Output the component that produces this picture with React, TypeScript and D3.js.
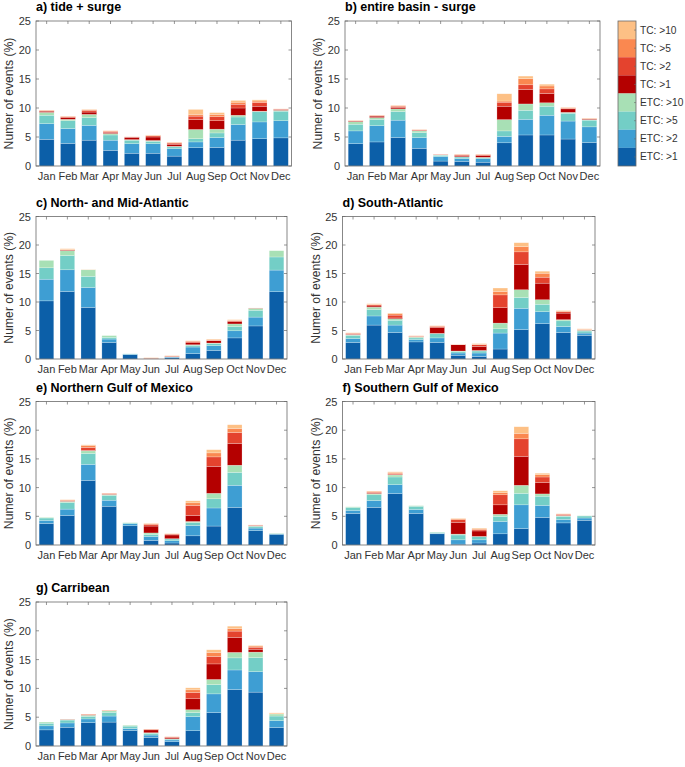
import React from "react";
import * as d3 from "d3";

const months = ["Jan", "Feb", "Mar", "Apr", "May", "Jun", "Jul", "Aug", "Sep", "Oct", "Nov", "Dec"];
const seriesNames = ["ETC: >1", "ETC: >2", "ETC: >5", "ETC: >10", "TC: >1", "TC: >2", "TC: >5", "TC: >10"];
const seriesColors = ["#0c5fa8", "#3e9ed3", "#73cec6", "#a8e0b5", "#b40000", "#e4432e", "#fa8850", "#fdc085"];
const yTicks = [0, 5, 10, 15, 20, 25];

// segment values per month: ETC>1, ETC>2, ETC>5, ETC>10, TC>1, TC>2, TC>5, TC>10
const tideSurge = [
  [4.6, 2.7, 1.45, 0.5, 0.2, 0.1, 0.05, 0.05],
  [3.9, 2.55, 1.35, 0.25, 0.3, 0.15, 0.05, 0.05],
  [4.45, 2.55, 1.35, 0.55, 0.4, 0.3, 0.1, 0.05],
  [2.7, 1.75, 0.9, 0.25, 0.2, 0.15, 0.1, 0.05],
  [2.2, 1.65, 0.6, 0.1, 0.4, 0.05, 0.03, 0.02],
  [2.2, 1.65, 0.4, 0.15, 0.6, 0.2, 0.1, 0.05],
  [1.7, 1.3, 0.3, 0.1, 0.35, 0.2, 0.1, 0.05],
  [3.15, 1.0, 0.55, 1.6, 1.7, 0.6, 0.3, 0.85],
  [3.2, 1.7, 0.8, 0.65, 1.45, 0.7, 0.4, 0.3],
  [4.45, 2.7, 1.3, 0.3, 1.25, 0.65, 0.35, 0.3],
  [4.7, 2.9, 1.75, 0.1, 0.85, 0.65, 0.25, 0.2],
  [4.85, 2.95, 1.65, 0.15, 0.15, 0.05, 0.03, 0.02],
];
const entireBasin = [
  [3.85, 2.2, 1.15, 0.45, 0.1, 0.05, 0.05, 0.03],
  [4.15, 2.8, 1.1, 0.3, 0.25, 0.1, 0.05, 0.03],
  [4.9, 3.0, 1.5, 0.45, 0.25, 0.2, 0.1, 0.05],
  [3.05, 1.85, 0.85, 0.3, 0.1, 0.08, 0.05, 0.02],
  [0.85, 0.8, 0.2, 0.05, 0.05, 0.03, 0.02, 0.0],
  [0.8, 0.5, 0.25, 0.05, 0.2, 0.15, 0.05, 0.03],
  [0.65, 0.6, 0.2, 0.05, 0.3, 0.15, 0.05, 0.03],
  [4.0, 1.1, 0.95, 1.95, 2.3, 0.7, 0.2, 1.25],
  [5.35, 2.7, 1.55, 1.1, 2.5, 0.8, 1.05, 0.45],
  [5.35, 3.4, 1.55, 0.6, 1.6, 0.8, 0.5, 0.3],
  [4.65, 3.1, 1.35, 0.15, 0.6, 0.1, 0.1, 0.05],
  [4.05, 2.7, 1.15, 0.1, 0.1, 0.05, 0.05, 0.05],
];
const northMidAtlantic = [
  [10.2, 3.8, 2.0, 1.3, 0, 0, 0, 0],
  [11.85, 3.8, 2.5, 0.85, 0.1, 0.05, 0.05, 0.15],
  [9.05, 3.5, 1.95, 1.15, 0, 0, 0, 0.05],
  [2.9, 0.6, 0.3, 0.3, 0, 0, 0, 0],
  [0.75, 0.1, 0.05, 0, 0, 0, 0, 0],
  [0.02, 0.02, 0, 0, 0, 0.1, 0.05, 0.05],
  [0.25, 0.1, 0.05, 0, 0, 0.1, 0.05, 0.05],
  [0.95, 1.15, 0.3, 0.1, 0.35, 0.2, 0.1, 0.05],
  [1.5, 0.85, 0.35, 0.1, 0.4, 0.1, 0.1, 0.1],
  [3.7, 1.25, 0.75, 0.45, 0.4, 0.15, 0.1, 0.1],
  [5.8, 1.55, 1.2, 0.35, 0.03, 0.02, 0, 0],
  [11.8, 3.8, 2.3, 1.1, 0, 0, 0, 0],
];
const southAtlantic = [
  [2.9, 0.7, 0.55, 0.1, 0.1, 0.15, 0.05, 0.05],
  [5.95, 1.6, 1.15, 0.4, 0.2, 0.2, 0.1, 0.1],
  [4.65, 1.3, 0.85, 0.25, 0.15, 0.5, 0.25, 0.1],
  [3.0, 0.4, 0.3, 0.15, 0.05, 0.1, 0.05, 0.05],
  [2.9, 0.8, 0.75, 0.05, 1.05, 0.15, 0.1, 0.05],
  [0.65, 0.4, 0.25, 0.1, 1.1, 0.05, 0.03, 0.02],
  [0.45, 0.6, 0.35, 0.1, 0.7, 0.3, 0.1, 0.1],
  [1.75, 2.8, 0.75, 1.0, 2.7, 2.25, 0.6, 0.6],
  [5.15, 3.75, 1.9, 1.35, 4.45, 2.2, 0.9, 0.7],
  [6.2, 2.1, 1.3, 0.8, 2.9, 1.05, 0.7, 0.35],
  [4.65, 1.05, 1.0, 0.2, 1.15, 0.25, 0.1, 0.1],
  [4.15, 0.4, 0.35, 0.15, 0.05, 0.05, 0.05, 0.1],
];
const northernGulf = [
  [3.75, 0.55, 0.4, 0.1, 0, 0, 0, 0],
  [5.15, 1.1, 1.15, 0.2, 0.05, 0.1, 0.1, 0.05],
  [11.25, 2.8, 1.9, 0.45, 0.1, 0.5, 0.35, 0.1],
  [6.75, 1.05, 0.85, 0.15, 0.05, 0.1, 0.05, 0.0],
  [3.35, 0.35, 0.15, 0.05, 0, 0, 0, 0],
  [0.8, 0.7, 0.35, 0.25, 1.2, 0.3, 0.1, 0.1],
  [0.35, 0.4, 0.3, 0.05, 0.65, 0.15, 0.05, 0.05],
  [1.6, 1.8, 0.5, 0.2, 1.05, 1.75, 0.45, 0.35],
  [3.3, 3.15, 1.6, 0.95, 4.7, 1.65, 0.7, 0.55],
  [6.55, 3.85, 2.25, 1.25, 3.8, 1.9, 0.7, 0.65],
  [2.5, 0.45, 0.3, 0.05, 0.1, 0.05, 0.03, 0.02],
  [1.85, 0.1, 0.05, 0.05, 0, 0, 0, 0],
];
const southernGulf = [
  [5.5, 0.55, 0.5, 0.1, 0, 0, 0, 0],
  [6.55, 1.2, 1.0, 0.2, 0.1, 0.15, 0.15, 0.05],
  [8.95, 1.55, 1.35, 0.35, 0.1, 0.15, 0.2, 0.1],
  [5.5, 0.7, 0.55, 0.1, 0, 0, 0, 0],
  [1.95, 0.1, 0.15, 0.05, 0, 0, 0, 0],
  [0.15, 0.75, 0.85, 0.15, 2.05, 0.45, 0.15, 0.1],
  [0.35, 0.55, 0.55, 0.05, 0.95, 0.2, 0.15, 0.15],
  [1.95, 2.15, 0.9, 0.35, 1.65, 1.75, 0.35, 0.35],
  [2.85, 4.15, 2.0, 1.4, 5.05, 3.05, 0.95, 1.15],
  [4.8, 2.1, 1.6, 0.4, 2.0, 0.95, 0.4, 0.25],
  [3.85, 0.6, 0.55, 0.1, 0.05, 0.2, 0.05, 0.05],
  [4.3, 0.4, 0.35, 0.05, 0, 0, 0, 0],
];
const caribbean = [
  [2.8, 0.7, 0.45, 0.2, 0, 0, 0, 0],
  [3.25, 0.75, 0.5, 0.1, 0.03, 0.02, 0, 0],
  [4.05, 0.65, 0.45, 0.2, 0.05, 0.1, 0.05, 0.0],
  [4.15, 1.05, 0.65, 0.25, 0, 0.05, 0.05, 0.0],
  [2.7, 0.35, 0.4, 0.15, 0, 0, 0, 0],
  [1.5, 0.4, 0.3, 0.1, 0.5, 0.1, 0.05, 0.0],
  [0.75, 0.3, 0.15, 0.05, 0.2, 0.1, 0.05, 0.0],
  [2.65, 2.45, 0.7, 0.5, 1.9, 1.1, 0.45, 0.35],
  [5.8, 3.25, 1.6, 0.9, 2.7, 1.3, 0.7, 0.45],
  [9.8, 3.4, 2.1, 0.95, 2.6, 1.1, 0.45, 0.4],
  [9.35, 3.55, 2.45, 0.95, 0.5, 0.35, 0.2, 0.1],
  [3.2, 1.2, 0.8, 0.35, 0, 0, 0.05, 0.15],
];

const FONT = "'Liberation Sans', Arial, Helvetica, sans-serif";
const TEXT = "#333333";
const AXIS = "#6a6a6a";

type PanelProps = { title: string; data: number[][]; left: number; right: number; top: number; bottom: number };

function Panel({ title, data, left, right, top, bottom }: PanelProps) {
  const x = d3.scaleBand<string>().domain(months).range([left, right]).paddingInner(0.3).paddingOuter(0.15);
  const y = d3.scaleLinear().domain([0, 25]).range([bottom, top]);
  const keys = seriesNames.map((_, k) => "s" + k);
  const rows = data.map((vals, i) => {
    const o: any = { month: months[i] };
    vals.forEach((v, k) => (o["s" + k] = v));
    return o;
  });
  const stacked = d3.stack<any>().keys(keys)(rows);
  const tickLen = 3;
  return (
    <g>
      <text x={left} y={top - 10} fontFamily={FONT} fontWeight="bold" fontSize={12.5} fill="#000">
        {title}
      </text>
      <rect x={left} y={top} width={right - left} height={bottom - top} fill="#fff" />
      {stacked.map((layer, k) => (
        <g key={k} fill={seriesColors[k]}>
          {layer.map((d, i) => {
            const h = y(d[0]) - y(d[1]);
            if (h <= 0) return null;
            return (
              <rect
                key={i}
                x={x(months[i])}
                y={y(d[1])}
                width={x.bandwidth()}
                height={h}
                stroke="#ffffff"
                strokeOpacity={0.45}
                strokeWidth={0.5}
              />
            );
          })}
        </g>
      ))}
      {yTicks.map((t) => (
        <g key={t}>
          <line x1={left} x2={left + tickLen} y1={y(t)} y2={y(t)} stroke={AXIS} strokeWidth={0.7} />
          <line x1={right} x2={right - tickLen} y1={y(t)} y2={y(t)} stroke={AXIS} strokeWidth={0.7} />
          <text
            x={left - 5}
            y={y(t)}
            textAnchor="end"
            dominantBaseline="central"
            fontFamily={FONT}
            fontSize={11}
            fill={TEXT}
          >
            {t}
          </text>
        </g>
      ))}
      {months.map((m) => {
        const cx = (x(m) as number) + x.bandwidth() / 2;
        return (
          <g key={m}>
            <line x1={cx} x2={cx} y1={top} y2={top + tickLen} stroke={AXIS} strokeWidth={0.7} />
            <text x={cx} y={bottom + 14} textAnchor="middle" fontFamily={FONT} fontSize={11} fill={TEXT}>
              {m}
            </text>
          </g>
        );
      })}
      <rect x={left} y={top} width={right - left} height={bottom - top} fill="none" stroke={AXIS} strokeWidth={0.8} />
      <text
        transform={`translate(${left - 23},${(top + bottom) / 2}) rotate(-90)`}
        textAnchor="middle"
        fontFamily={FONT}
        fontSize={12.2}
        fill={TEXT}
      >
        Numer of events (%)
      </text>
    </g>
  );
}

function Legend({ left, right, top, bottom }: { left: number; right: number; top: number; bottom: number }) {
  const order = seriesNames.map((_, k) => k).reverse();
  const yb = d3.scaleBand<number>().domain(order).range([top, bottom]);
  return (
    <g>
      {order.map((k) => (
        <g key={k}>
          <rect x={left} y={yb(k)} width={right - left} height={yb.bandwidth()} fill={seriesColors[k]} />
          <line
            x1={right}
            x2={right - 2}
            y1={(yb(k) as number) + yb.bandwidth() / 2}
            y2={(yb(k) as number) + yb.bandwidth() / 2}
            stroke={AXIS}
            strokeWidth={0.6}
          />
          <text
            x={right + 4}
            y={(yb(k) as number) + yb.bandwidth() / 2}
            dominantBaseline="central"
            fontFamily={FONT}
            fontSize={10.2}
            fill={TEXT}
          >
            {seriesNames[k]}
          </text>
        </g>
      ))}
      <rect x={left} y={top} width={right - left} height={bottom - top} fill="none" stroke={AXIS} strokeWidth={0.8} />
    </g>
  );
}

const panels = [
  { title: "a) tide + surge", data: tideSurge, left: 36, right: 291.5, top: 21, bottom: 166 },
  { title: "b) entire basin - surge", data: entireBasin, left: 345, right: 600, top: 21, bottom: 166 },
  { title: "c) North- and Mid-Atlantic", data: northMidAtlantic, left: 36, right: 287, top: 216.5, bottom: 359 },
  { title: "d) South-Atlantic", data: southAtlantic, left: 342.5, right: 595, top: 216.5, bottom: 359 },
  { title: "e) Northern Gulf of Mexico", data: northernGulf, left: 36, right: 287, top: 401.5, bottom: 545 },
  { title: "f) Southern Gulf of Mexico", data: southernGulf, left: 342.5, right: 595, top: 401.5, bottom: 545 },
  { title: "g) Carribean", data: caribbean, left: 36, right: 287, top: 602, bottom: 746 },
];

export default function App() {
  return (
    <svg
      width={685}
      height={767}
      style={{ position: "absolute", left: 0, top: 0, display: "block", background: "#fff" }}
    >
      <rect x={0} y={0} width={685} height={767} fill="#fff" />
      {panels.map((p) => (
        <Panel key={p.title} {...p} />
      ))}
      <Legend left={618} right={636} top={21} bottom={166} />
    </svg>
  );
}
